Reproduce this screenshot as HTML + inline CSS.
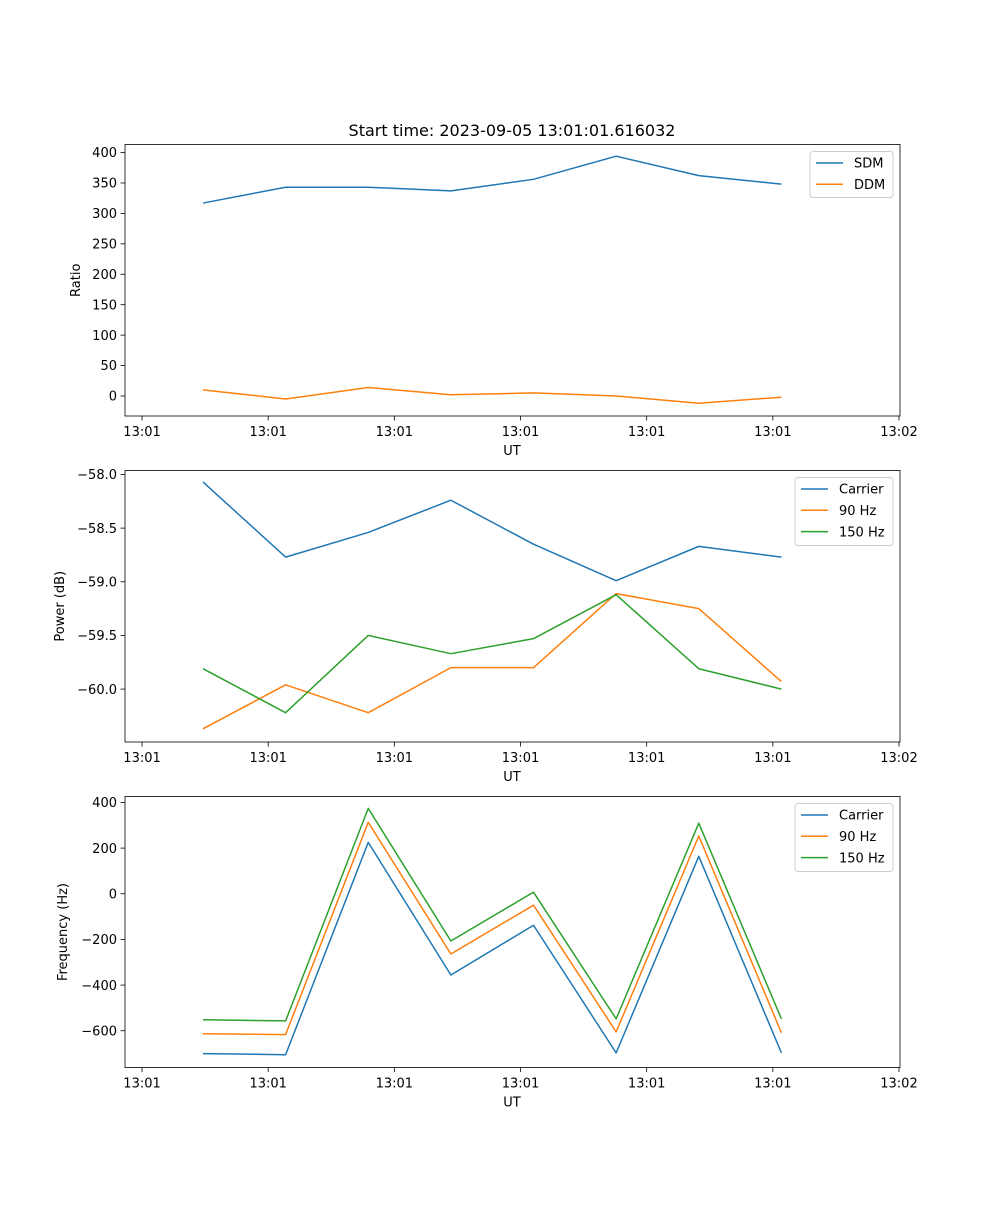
<!DOCTYPE html>
<html><head><meta charset="utf-8">
<style>
html,body{margin:0;padding:0;background:#fff;}
svg text{font-family:"DejaVu Sans","Liberation Sans",sans-serif;}
</style></head>
<body>
<svg id="fig" width="1000" height="1200" xmlns="http://www.w3.org/2000/svg">
<rect width="1000" height="1200" fill="#fff"/>
<text x="512" y="136" font-size="16" text-anchor="middle">Start time: 2023-09-05 13:01:01.616032</text>
</svg>
<script>
// shared x data (seconds after 13:01:00)
const times = [4.83, 11.38, 17.93, 24.48, 31.03, 37.58, 44.13, 50.68];
const xTickValues = [0, 10, 20, 30, 40, 50, 60];
const xTickLabels = ["13:01","13:01","13:01","13:01","13:01","13:01","13:02"];

// panel 1
const sdm = [317, 343, 343, 337, 356, 394, 362, 348];
const ddm = [10, -5, 14, 2, 5, 0, -12, -2];
const ratioTicks = [0, 50, 100, 150, 200, 250, 300, 350, 400];
// panel 2
const powerCarrier = [-58.07, -58.77, -58.54, -58.24, -58.65, -58.99, -58.67, -58.77];
const power90 = [-60.37, -59.96, -60.22, -59.80, -59.80, -59.11, -59.25, -59.93];
const power150 = [-59.81, -60.22, -59.50, -59.67, -59.53, -59.12, -59.81, -60.00];
const powerTicks = [-60.0, -59.5, -59.0, -58.5, -58.0];
const powerTickLabels = ["\u221260.0","\u221259.5","\u221259.0","\u221258.5","\u221258.0"];
// panel 3
const freqCarrier = [-700, -705, 225, -356, -138, -697, 164, -697];
const freq90 = [-613, -617, 313, -264, -50, -605, 253, -609];
const freq150 = [-552, -557, 374, -207, 7, -548, 309, -548];
const freqTicks = [-600, -400, -200, 0, 200, 400];
const freqTickLabels = ["\u2212600","\u2212400","\u2212200","0","200","400"];
const ratioTickLabels = ratioTicks.map(String);

const NS = "http://www.w3.org/2000/svg";
const svg = document.getElementById("fig");
const X0 = 125, X1 = 900, XMIN = -1.35, XMAX = 60.08;
function xs(v){ return X0 + (v - XMIN) / (XMAX - XMIN) * (X1 - X0); }
function mk(tag, attrs, parent){
  const e = document.createElementNS(NS, tag);
  for (const k in attrs) e.setAttribute(k, attrs[k]);
  (parent || svg).appendChild(e);
  return e;
}

function panel(cfg){
  const g = mk("g", {});
  
  
  const ys = v => cfg.y1 - (v - cfg.ymin) / (cfg.ymax - cfg.ymin) * (cfg.y1 - cfg.y0);
  cfg.series.forEach(s => {
    const pts = times.map((t, i) => xs(t).toFixed(2) + "," + ys(s.data[i]).toFixed(2)).join(" ");
    const pl = mk("polyline", {points: pts, fill: "none", stroke: s.color, "stroke-width": 1.5, "stroke-linejoin": "round"}, g);
    
    
  });
  const fr = mk("rect", {x: X0, y: cfg.y0, width: X1 - X0, height: cfg.y1 - cfg.y0, fill: "none", stroke: "#000", "stroke-width": 0.8}, g);
  
  
  xTickValues.forEach((v, i) => {
    const x = xs(v);
    mk("line", {x1: x, x2: x, y1: cfg.y1, y2: cfg.y1 + 4.5, stroke: "#000", "stroke-width": 0.8}, g);
    const t = mk("text", {x: x, y: cfg.y1 + 20, "font-size": 13, "text-anchor": "middle"}, g);
    t.textContent = xTickLabels[i];
    
    
  });
  cfg.ticks.forEach((v, i) => {
    const y = ys(v);
    mk("line", {x1: X0 - 4.5, x2: X0, y1: y, y2: y, stroke: "#000", "stroke-width": 0.8}, g);
    const t = mk("text", {x: X0 - 8, y: y + 4.7, "font-size": 13, "text-anchor": "end"}, g);
    t.textContent = cfg.tickLabels[i];
    
    
  });
  const xl = mk("text", {x: 512, y: cfg.y1 + 39, "font-size": 13, "text-anchor": "middle"}, g);
  xl.textContent = "UT";
  
  
  const yc = (cfg.y0 + cfg.y1) / 2;
  const yl = mk("text", {x: cfg.ylabelX, y: yc, "font-size": 13, "text-anchor": "middle", transform: "rotate(-90 " + cfg.ylabelX + " " + yc + ")"}, g);
  yl.textContent = cfg.ylabel;
  
  
  // legend
  const L = cfg.legend;
  const lg = mk("g", {}, g);
  
  
  mk("rect", {x: L.x, y: cfg.y0 + 7, width: L.w, height: 22 * cfg.series.length + 2, rx: 3, fill: "#fff", "fill-opacity": 0.8, stroke: "#ccc", "stroke-width": 1}, lg);
  cfg.series.forEach((s, i) => {
    const y = cfg.y0 + 18.5 + 21.3 * i;
    mk("line", {x1: L.x + 6, x2: L.x + 33, y1: y, y2: y, stroke: s.color, "stroke-width": 1.5}, lg);
    const t = mk("text", {x: L.x + 44, y: y + 4.7, "font-size": 13}, lg);
    t.textContent = s.label;
    
    
  });
}

panel({name: "ratio-panel", y0: 144.5, y1: 416, ymin: -32.9, ymax: 413.2, ticks: ratioTicks, tickLabels: ratioTickLabels,
  ylabel: "Ratio", ylabelX: 80, legend: {x: 810, w: 83},
  series: [{key: "sdm", label: "SDM", color: "#1f77b4", data: sdm}, {key: "ddm", label: "DDM", color: "#ff7f0e", data: ddm}]});
panel({name: "power-panel", y0: 470.5, y1: 742, ymin: -60.493, ymax: -57.963, ticks: powerTicks, tickLabels: powerTickLabels,
  ylabel: "Power (dB)", ylabelX: 64, legend: {x: 795, w: 98},
  series: [{key: "carrier", label: "Carrier", color: "#1f77b4", data: powerCarrier},
           {key: "90hz", label: "90 Hz", color: "#ff7f0e", data: power90},
           {key: "150hz", label: "150 Hz", color: "#2ca02c", data: power150}]});
panel({name: "frequency-panel", y0: 796.5, y1: 1067.5, ymin: -761, ymax: 426, ticks: freqTicks, tickLabels: freqTickLabels,
  ylabel: "Frequency (Hz)", ylabelX: 67, legend: {x: 795, w: 98},
  series: [{key: "carrier", label: "Carrier", color: "#1f77b4", data: freqCarrier},
           {key: "90hz", label: "90 Hz", color: "#ff7f0e", data: freq90},
           {key: "150hz", label: "150 Hz", color: "#2ca02c", data: freq150}]});
</script>
</body></html>
